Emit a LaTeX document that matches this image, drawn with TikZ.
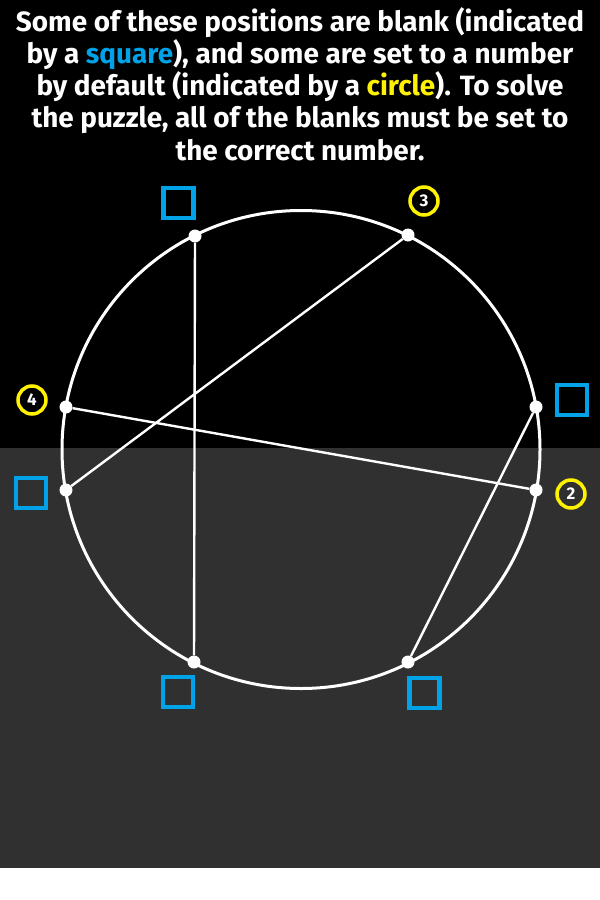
\documentclass[tikz,border=0pt]{standalone}
\usepackage{fontspec}
\setmainfont{Fira Sans}
\definecolor{sqblue}{HTML}{00A2E8}
\definecolor{cyel}{HTML}{FFF200}
\definecolor{bggray}{HTML}{303030}
\begin{document}
\begin{tikzpicture}[x=1bp,y=-1bp,
  dot/.style={circle,fill=white,inner sep=0pt,minimum size=13bp},
  chord/.style={white,line width=2.4bp},
  blank/.style={draw=sqblue,line width=4.5bp,minimum size=30bp,inner sep=0pt},
  given/.style={circle,draw=cyel,line width=3.5bp,minimum size=28bp,inner sep=0pt,text=white,font=\bfseries\fontsize{17}{17}\selectfont},
  title/.style={text=white,font=\bfseries\fontsize{28}{32.3}\selectfont,align=center}]
\useasboundingbox (0,0) rectangle (600,900);
\fill[black] (0,0) rectangle (600,448);
\fill[bggray] (0,448) rectangle (600,868);
\fill[white] (0,868) rectangle (600,900);
\node[title] (txt) at (300,84) {Some of these positions are blank (indicated\\
by a \textcolor{sqblue}{square}), and some are set to a number\\
by default (indicated by a \textcolor{cyel}{circle}). To solve\\
the puzzle, all of the blanks must be set to\\
the correct number.};
\draw[white,line width=3bp] (301,449.5) circle [radius=239];
\node[dot] (A) at (195,236) {};
\node[dot] (B) at (408,235) {};
\node[dot] (C) at (66,407) {};
\node[dot] (D) at (66,490) {};
\node[dot] (E) at (536,407) {};
\node[dot] (F) at (536,490) {};
\node[dot] (G) at (194,662) {};
\node[dot] (H) at (408,662) {};
\draw[chord] (A) -- (G);
\draw[chord] (B) -- (D);
\draw[chord] (C) -- (F);
\draw[chord] (E) -- (H);
\node[blank] (sA) at (178.5,203) {};
\node[given] (cB) at (424,201) {3};
\node[given] (cC) at (32,400) {4};
\node[blank] (sD) at (31,493) {};
\node[blank] (sE) at (572,400) {};
\node[given] (cF) at (571,494) {2};
\node[blank] (sG) at (178,692) {};
\node[blank] (sH) at (424.5,693) {};
\end{tikzpicture}
\end{document}
